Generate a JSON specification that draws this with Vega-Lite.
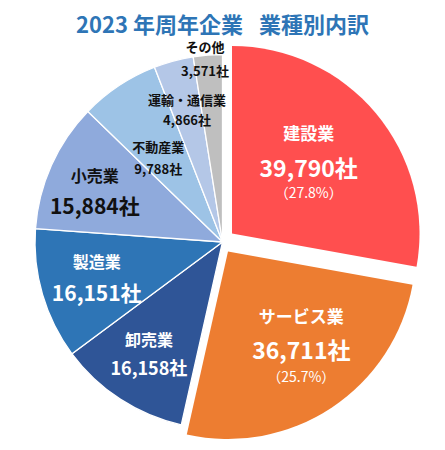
{
  "$schema": "https://vega.github.io/schema/vega-lite/v6.json",
  "autosize": {"type": "none"},
  "width": 445,
  "height": 396,
  "padding": {"top": 44, "left": 0, "right": 0, "bottom": 0},
  "background": "white",
  "config": {"view": {"stroke": null}, "text": {"font": "Noto Sans CJK JP"}},
  "title": {"text": "2023 年周年企業 \u2002業種別内訳", "font": "Noto Sans CJK JP", "fontSize": 22, "fontWeight": "bold", "color": "#2E75B6", "anchor": "middle", "offset": -18, "baseline": "bottom"},
  "data": {"values": [
    {"order": 1, "name": "建設業", "count": 39790, "label": "39,790社", "pct": "（27.8%）"},
    {"order": 2, "name": "サービス業", "count": 36711, "label": "36,711社", "pct": "（25.7%）"},
    {"order": 3, "name": "卸売業", "count": 16158, "label": "16,158社", "pct": ""},
    {"order": 4, "name": "製造業", "count": 16151, "label": "16,151社", "pct": ""},
    {"order": 5, "name": "小売業", "count": 15884, "label": "15,884社", "pct": ""},
    {"order": 6, "name": "不動産業", "count": 9788, "label": "9,788社", "pct": ""},
    {"order": 7, "name": "運輸・通信業", "count": 4866, "label": "4,866社", "pct": ""},
    {"order": 8, "name": "その他", "count": 3571, "label": "3,571社", "pct": ""}
  ]},
  "layer": [
    {
      "transform": [
        {"stack": "count", "groupby": [], "sort": [{"field": "order", "order": "ascending"}], "as": ["t0", "t1"]},
        {"filter": "datum.order >= 3"}
      ],
      "mark": {"type": "arc", "outerRadius": 187.5, "stroke": "white", "strokeWidth": 1.3},
      "encoding": {
        "theta": {"field": "t0", "type": "quantitative", "stack": null},
        "theta2": {"field": "t1"},
        "color": {"field": "name", "type": "nominal", "legend": null,
          "scale": {"domain": ["建設業", "サービス業", "卸売業", "製造業", "小売業", "不動産業", "運輸・通信業", "その他"],
                    "range": ["#FF4F4F", "#ED7D31", "#2F5597", "#2E75B6", "#8FAADC", "#9DC3E6", "#B4C7E7", "#BFBFBF"]}}
      }
    },
    {
      "transform": [
        {"stack": "count", "groupby": [], "sort": [{"field": "order", "order": "ascending"}], "as": ["t0", "t1"]},
        {"filter": "datum.order === 1"}
      ],
      "mark": {"type": "arc", "outerRadius": 187.5, "xOffset": 9.5, "yOffset": -8.5},
      "encoding": {
        "theta": {"field": "t0", "type": "quantitative", "stack": null},
        "theta2": {"field": "t1"},
        "color": {"field": "name", "type": "nominal", "legend": null}
      }
    },
    {
      "transform": [
        {"stack": "count", "groupby": [], "sort": [{"field": "order", "order": "ascending"}], "as": ["t0", "t1"]},
        {"filter": "datum.order === 2"}
      ],
      "mark": {"type": "arc", "outerRadius": 187.5, "xOffset": 5.5, "yOffset": 9.5},
      "encoding": {
        "theta": {"field": "t0", "type": "quantitative", "stack": null},
        "theta2": {"field": "t1"},
        "color": {"field": "name", "type": "nominal", "legend": null}
      }
    },
    {
      "mark": {"type": "text", "radius": 124, "thetaOffset": -0.106, "dy": -17.5, "fontSize": 17, "fontWeight": "bold", "color": "white"},
      "encoding": {"theta": {"field": "count", "type": "quantitative", "stack": "zero"}, "order": {"field": "order", "type": "quantitative"}, "detail": {"field": "name"},
        "text": {"condition": {"test": "datum.order === 1", "field": "name"}, "value": ""}}
    },
    {
      "mark": {"type": "text", "radius": 124, "thetaOffset": -0.106, "dy": 17.5, "fontSize": 23, "fontWeight": "bold", "color": "white"},
      "encoding": {"theta": {"field": "count", "type": "quantitative", "stack": "zero"}, "order": {"field": "order", "type": "quantitative"}, "detail": {"field": "name"},
        "text": {"condition": {"test": "datum.order === 1", "field": "label"}, "value": ""}}
    },
    {
      "mark": {"type": "text", "radius": 124, "thetaOffset": -0.106, "dy": 41, "fontSize": 14, "fontWeight": "normal", "color": "white"},
      "encoding": {"theta": {"field": "count", "type": "quantitative", "stack": "zero"}, "order": {"field": "order", "type": "quantitative"}, "detail": {"field": "name"},
        "text": {"condition": {"test": "datum.order === 1", "field": "pct"}, "value": ""}}
    },
    {
      "mark": {"type": "text", "radius": 122, "thetaOffset": -0.117, "dy": -17, "fontSize": 17, "fontWeight": "bold", "color": "white"},
      "encoding": {"theta": {"field": "count", "type": "quantitative", "stack": "zero"}, "order": {"field": "order", "type": "quantitative"}, "detail": {"field": "name"},
        "text": {"condition": {"test": "datum.order === 2", "field": "name"}, "value": ""}}
    },
    {
      "mark": {"type": "text", "radius": 122, "thetaOffset": -0.117, "dy": 17, "fontSize": 23, "fontWeight": "bold", "color": "white"},
      "encoding": {"theta": {"field": "count", "type": "quantitative", "stack": "zero"}, "order": {"field": "order", "type": "quantitative"}, "detail": {"field": "name"},
        "text": {"condition": {"test": "datum.order === 2", "field": "label"}, "value": ""}}
    },
    {
      "mark": {"type": "text", "radius": 122, "thetaOffset": -0.117, "dy": 42.5, "fontSize": 14, "fontWeight": "normal", "color": "white"},
      "encoding": {"theta": {"field": "count", "type": "quantitative", "stack": "zero"}, "order": {"field": "order", "type": "quantitative"}, "detail": {"field": "name"},
        "text": {"condition": {"test": "datum.order === 2", "field": "pct"}, "value": ""}}
    },
    {
      "mark": {"type": "text", "radius": 135, "dy": -14.5, "fontSize": 16, "fontWeight": "bold", "color": "white"},
      "encoding": {"theta": {"field": "count", "type": "quantitative", "stack": "zero"}, "order": {"field": "order", "type": "quantitative"}, "detail": {"field": "name"},
        "text": {"condition": {"test": "datum.order === 3", "field": "name"}, "value": ""}}
    },
    {
      "mark": {"type": "text", "radius": 135, "dy": 14.5, "fontSize": 18, "fontWeight": "bold", "color": "white"},
      "encoding": {"theta": {"field": "count", "type": "quantitative", "stack": "zero"}, "order": {"field": "order", "type": "quantitative"}, "detail": {"field": "name"},
        "text": {"condition": {"test": "datum.order === 3", "field": "label"}, "value": ""}}
    },
    {
      "mark": {"type": "text", "radius": 131, "dy": -16, "fontSize": 16, "fontWeight": "bold", "color": "white"},
      "encoding": {"theta": {"field": "count", "type": "quantitative", "stack": "zero"}, "order": {"field": "order", "type": "quantitative"}, "detail": {"field": "name"},
        "text": {"condition": {"test": "datum.order === 4", "field": "name"}, "value": ""}}
    },
    {
      "mark": {"type": "text", "radius": 131, "dy": 16, "fontSize": 21, "fontWeight": "bold", "color": "white"},
      "encoding": {"theta": {"field": "count", "type": "quantitative", "stack": "zero"}, "order": {"field": "order", "type": "quantitative"}, "detail": {"field": "name"},
        "text": {"condition": {"test": "datum.order === 4", "field": "label"}, "value": ""}}
    },
    {
      "mark": {"type": "text", "radius": 137, "thetaOffset": -0.05, "dy": -15.5, "fontSize": 16, "fontWeight": "bold", "color": "#111111"},
      "encoding": {"theta": {"field": "count", "type": "quantitative", "stack": "zero"}, "order": {"field": "order", "type": "quantitative"}, "detail": {"field": "name"},
        "text": {"condition": {"test": "datum.order === 5", "field": "name"}, "value": ""}}
    },
    {
      "mark": {"type": "text", "radius": 137, "thetaOffset": -0.05, "dy": 15.5, "fontSize": 21, "fontWeight": "bold", "color": "#111111"},
      "encoding": {"theta": {"field": "count", "type": "quantitative", "stack": "zero"}, "order": {"field": "order", "type": "quantitative"}, "detail": {"field": "name"},
        "text": {"condition": {"test": "datum.order === 5", "field": "label"}, "value": ""}}
    },
    {
      "mark": {"type": "text", "radius": 105, "thetaOffset": -0.073, "dy": -11, "fontSize": 13, "fontWeight": "bold", "color": "#111111"},
      "encoding": {"theta": {"field": "count", "type": "quantitative", "stack": "zero"}, "order": {"field": "order", "type": "quantitative"}, "detail": {"field": "name"},
        "text": {"condition": {"test": "datum.order === 6", "field": "name"}, "value": ""}}
    },
    {
      "mark": {"type": "text", "radius": 105, "thetaOffset": -0.073, "dy": 11, "fontSize": 13, "fontWeight": "bold", "color": "#111111"},
      "encoding": {"theta": {"field": "count", "type": "quantitative", "stack": "zero"}, "order": {"field": "order", "type": "quantitative"}, "detail": {"field": "name"},
        "text": {"condition": {"test": "datum.order === 6", "field": "label"}, "value": ""}}
    },
    {
      "mark": {"type": "text", "radius": 136, "dy": -10, "fontSize": 13, "fontWeight": "bold", "color": "#111111"},
      "encoding": {"theta": {"field": "count", "type": "quantitative", "stack": "zero"}, "order": {"field": "order", "type": "quantitative"}, "detail": {"field": "name"},
        "text": {"condition": {"test": "datum.order === 7", "field": "name"}, "value": ""}}
    },
    {
      "mark": {"type": "text", "radius": 136, "dy": 10, "fontSize": 13, "fontWeight": "bold", "color": "#111111"},
      "encoding": {"theta": {"field": "count", "type": "quantitative", "stack": "zero"}, "order": {"field": "order", "type": "quantitative"}, "detail": {"field": "name"},
        "text": {"condition": {"test": "datum.order === 7", "field": "label"}, "value": ""}}
    },
    {
      "mark": {"type": "text", "radius": 183, "thetaOffset": -0.017, "dy": -12, "fontSize": 13, "fontWeight": "bold", "color": "#111111"},
      "encoding": {"theta": {"field": "count", "type": "quantitative", "stack": "zero"}, "order": {"field": "order", "type": "quantitative"}, "detail": {"field": "name"},
        "text": {"condition": {"test": "datum.order === 8", "field": "name"}, "value": ""}}
    },
    {
      "mark": {"type": "text", "radius": 183, "thetaOffset": -0.017, "dy": 12, "fontSize": 13, "fontWeight": "bold", "color": "#111111"},
      "encoding": {"theta": {"field": "count", "type": "quantitative", "stack": "zero"}, "order": {"field": "order", "type": "quantitative"}, "detail": {"field": "name"},
        "text": {"condition": {"test": "datum.order === 8", "field": "label"}, "value": ""}}
    }
  ]
}
